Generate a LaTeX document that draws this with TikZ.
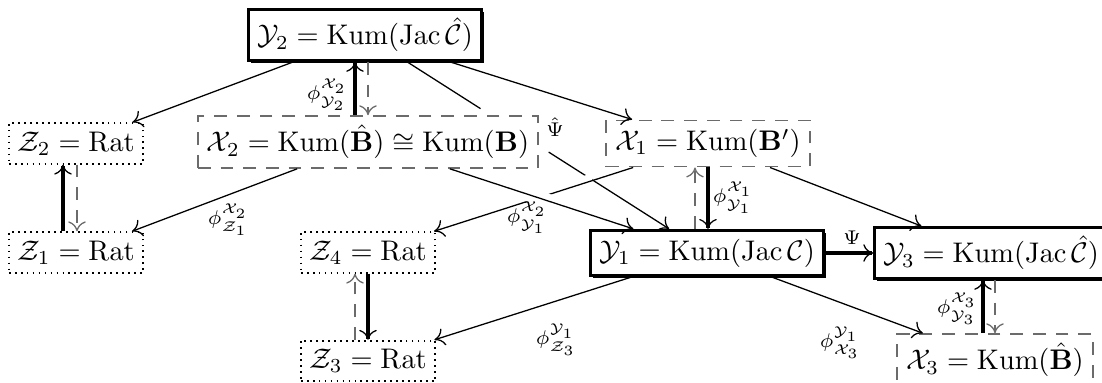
\documentclass[tikz,border=0pt]{standalone}
\usepackage{amsmath,amssymb}
\usetikzlibrary{arrows.meta,shadows,calc}
\definecolor{dgray}{gray}{0.42}
\begin{document}
\begin{tikzpicture}[x=0.3525pt,y=-0.3525pt,
  tipA/.tip={To[length=3.5pt,width=6.2pt,line width=0.45pt]},
  ybox/.style={draw,line width=1pt,fill=white,inner sep=3pt,
    drop shadow={shadow xshift=0.8pt,shadow yshift=-0.8pt,opacity=1,fill=black}},
  xbox/.style={draw=dgray,line width=0.5pt,dash pattern=on 4.5pt off 3.5pt,inner sep=3.2pt},
  zbox/.style={draw,line width=0.6pt,dash pattern=on 0.6pt off 1.5pt,inner sep=3pt},
  thinline/.style={line width=0.45pt},
  thinarrow/.style={-tipA,line width=0.45pt},
  strongarrow/.style={-tipA,line width=1.1pt},
  dasharrow/.style={-tipA,draw=dgray,line width=0.45pt,dash pattern=on 4.5pt off 3.5pt},
  halo/.style={draw=white,line width=5pt,shorten <=15pt,shorten >=15pt},
  lab/.style={inner sep=0pt}]
\useasboundingbox (0,0) rectangle (1102,383);

% nodes
\node[ybox] (Y2) at (365,35) {$\mathcal{Y}_2=\mathrm{Kum}(\mathrm{Jac}\,\hat{\mathcal{C}})$};
\node[zbox] (Z2) at (76,143.5) {$\mathcal{Z}_2=\mathrm{Rat}$};
\node[xbox] (X2) at (368,142) {$\mathcal{X}_2=\mathrm{Kum}(\hat{\mathbf{B}})\cong\mathrm{Kum}(\mathbf{B})$};
\node[xbox] (X1) at (708,143.5) {$\mathcal{X}_1=\mathrm{Kum}(\mathbf{B}')$};
\node[zbox] (Z1) at (76,252.5) {$\mathcal{Z}_1=\mathrm{Rat}$};
\node[zbox] (Z4) at (368,252.5) {$\mathcal{Z}_4=\mathrm{Rat}$};
\node[ybox] (Y1) at (707,253) {$\mathcal{Y}_1=\mathrm{Kum}(\mathrm{Jac}\,\mathcal{C})$};
\node[ybox] (Y3) at (991,253) {$\mathcal{Y}_3=\mathrm{Kum}(\mathrm{Jac}\,\hat{\mathcal{C}})$};
\node[zbox] (Z3) at (368,361) {$\mathcal{Z}_3=\mathrm{Rat}$};
\node[xbox] (X3) at (995,360) {$\mathcal{X}_3=\mathrm{Kum}(\hat{\mathbf{B}})$};

% x positions of the vertical pairs
\coordinate (vZa) at (63,0);  \coordinate (vZb) at (77,0);
\coordinate (vYa) at (355,0); \coordinate (vYb) at (368,0);
\coordinate (vXa) at (695,0); \coordinate (vXb) at (708,0);
\coordinate (vTa) at (983,0); \coordinate (vTb) at (995,0);

% vertical pairs
\draw[strongarrow] (Z1.north -| vZa) -- (Z2.south -| vZa);
\draw[dasharrow] (Z2.south -| vZb) -- (Z1.north -| vZb);
\draw[strongarrow] (X2.north -| vYa) -- (Y2.south -| vYa);
\draw[dasharrow] (Y2.south -| vYb) -- (X2.north -| vYb);
\draw[dasharrow] (Y1.north -| vXa) -- (X1.south -| vXa);
\draw[strongarrow] (X1.south -| vXb) -- (Y1.north -| vXb);
\draw[dasharrow] (Z3.north -| vYa) -- (Z4.south -| vYa);
\draw[strongarrow] (Z4.south -| vYb) -- (Z3.north -| vYb);
\draw[strongarrow] (X3.north -| vTa) -- (Y3.south -| vTa);
\draw[dasharrow] (Y3.south -| vTb) -- (X3.north -| vTb);
\draw[strongarrow] (Y1) -- (Y3);

% diagonals
\draw[thinarrow] (Y2) -- (Z2);
\draw[thinarrow] (Y2) -- (X1);
\path (Y2) -- (Y1) coordinate[pos=0.28] (g1) coordinate[pos=0.54] (g2);
\draw[thinline] (Y2) -- (g1);
\draw[thinarrow] (g2) -- (Y1);
\draw[thinarrow] (X2) -- (Z1);
\path[halo] (X1) -- (Z4);
\draw[thinarrow] (X1) -- (Z4);
\path[halo] (X2) -- (Y1);
\draw[thinarrow] (X2) -- (Y1);
\draw[thinarrow] (X1) -- (Y3);
\draw[thinarrow] (Y1) -- (Z3);
\draw[thinarrow] (Y1) -- (X3);

% labels
\node[lab] (lXY2) at (327,95) {$\scriptstyle\phi^{\mathcal{X}_2}_{\mathcal{Y}_2}$};
\node[lab] (lPsiHat) at (555,127) {$\scriptstyle\hat{\Psi}$};
\node[lab] (lXY1a) at (733,198) {$\scriptstyle\phi^{\mathcal{X}_1}_{\mathcal{Y}_1}$};
\node[lab] (lXY1b) at (527,218) {$\scriptstyle\phi^{\mathcal{X}_2}_{\mathcal{Y}_1}$};
\node[lab] (lXZ1) at (228,220) {$\scriptstyle\phi^{\mathcal{X}_2}_{\mathcal{Z}_1}$};
\node[lab] (lXY3) at (957,309) {$\scriptstyle\phi^{\mathcal{X}_3}_{\mathcal{Y}_3}$};
\node[lab] (lPsi) at (852,238) {$\scriptstyle\Psi$};
\node[lab] (lYZ3) at (556,340) {$\scriptstyle\phi^{\mathcal{Y}_1}_{\mathcal{Z}_3}$};
\node[lab] (lYX3) at (840,343) {$\scriptstyle\phi^{\mathcal{Y}_1}_{\mathcal{X}_3}$};
\end{tikzpicture}
\end{document}
